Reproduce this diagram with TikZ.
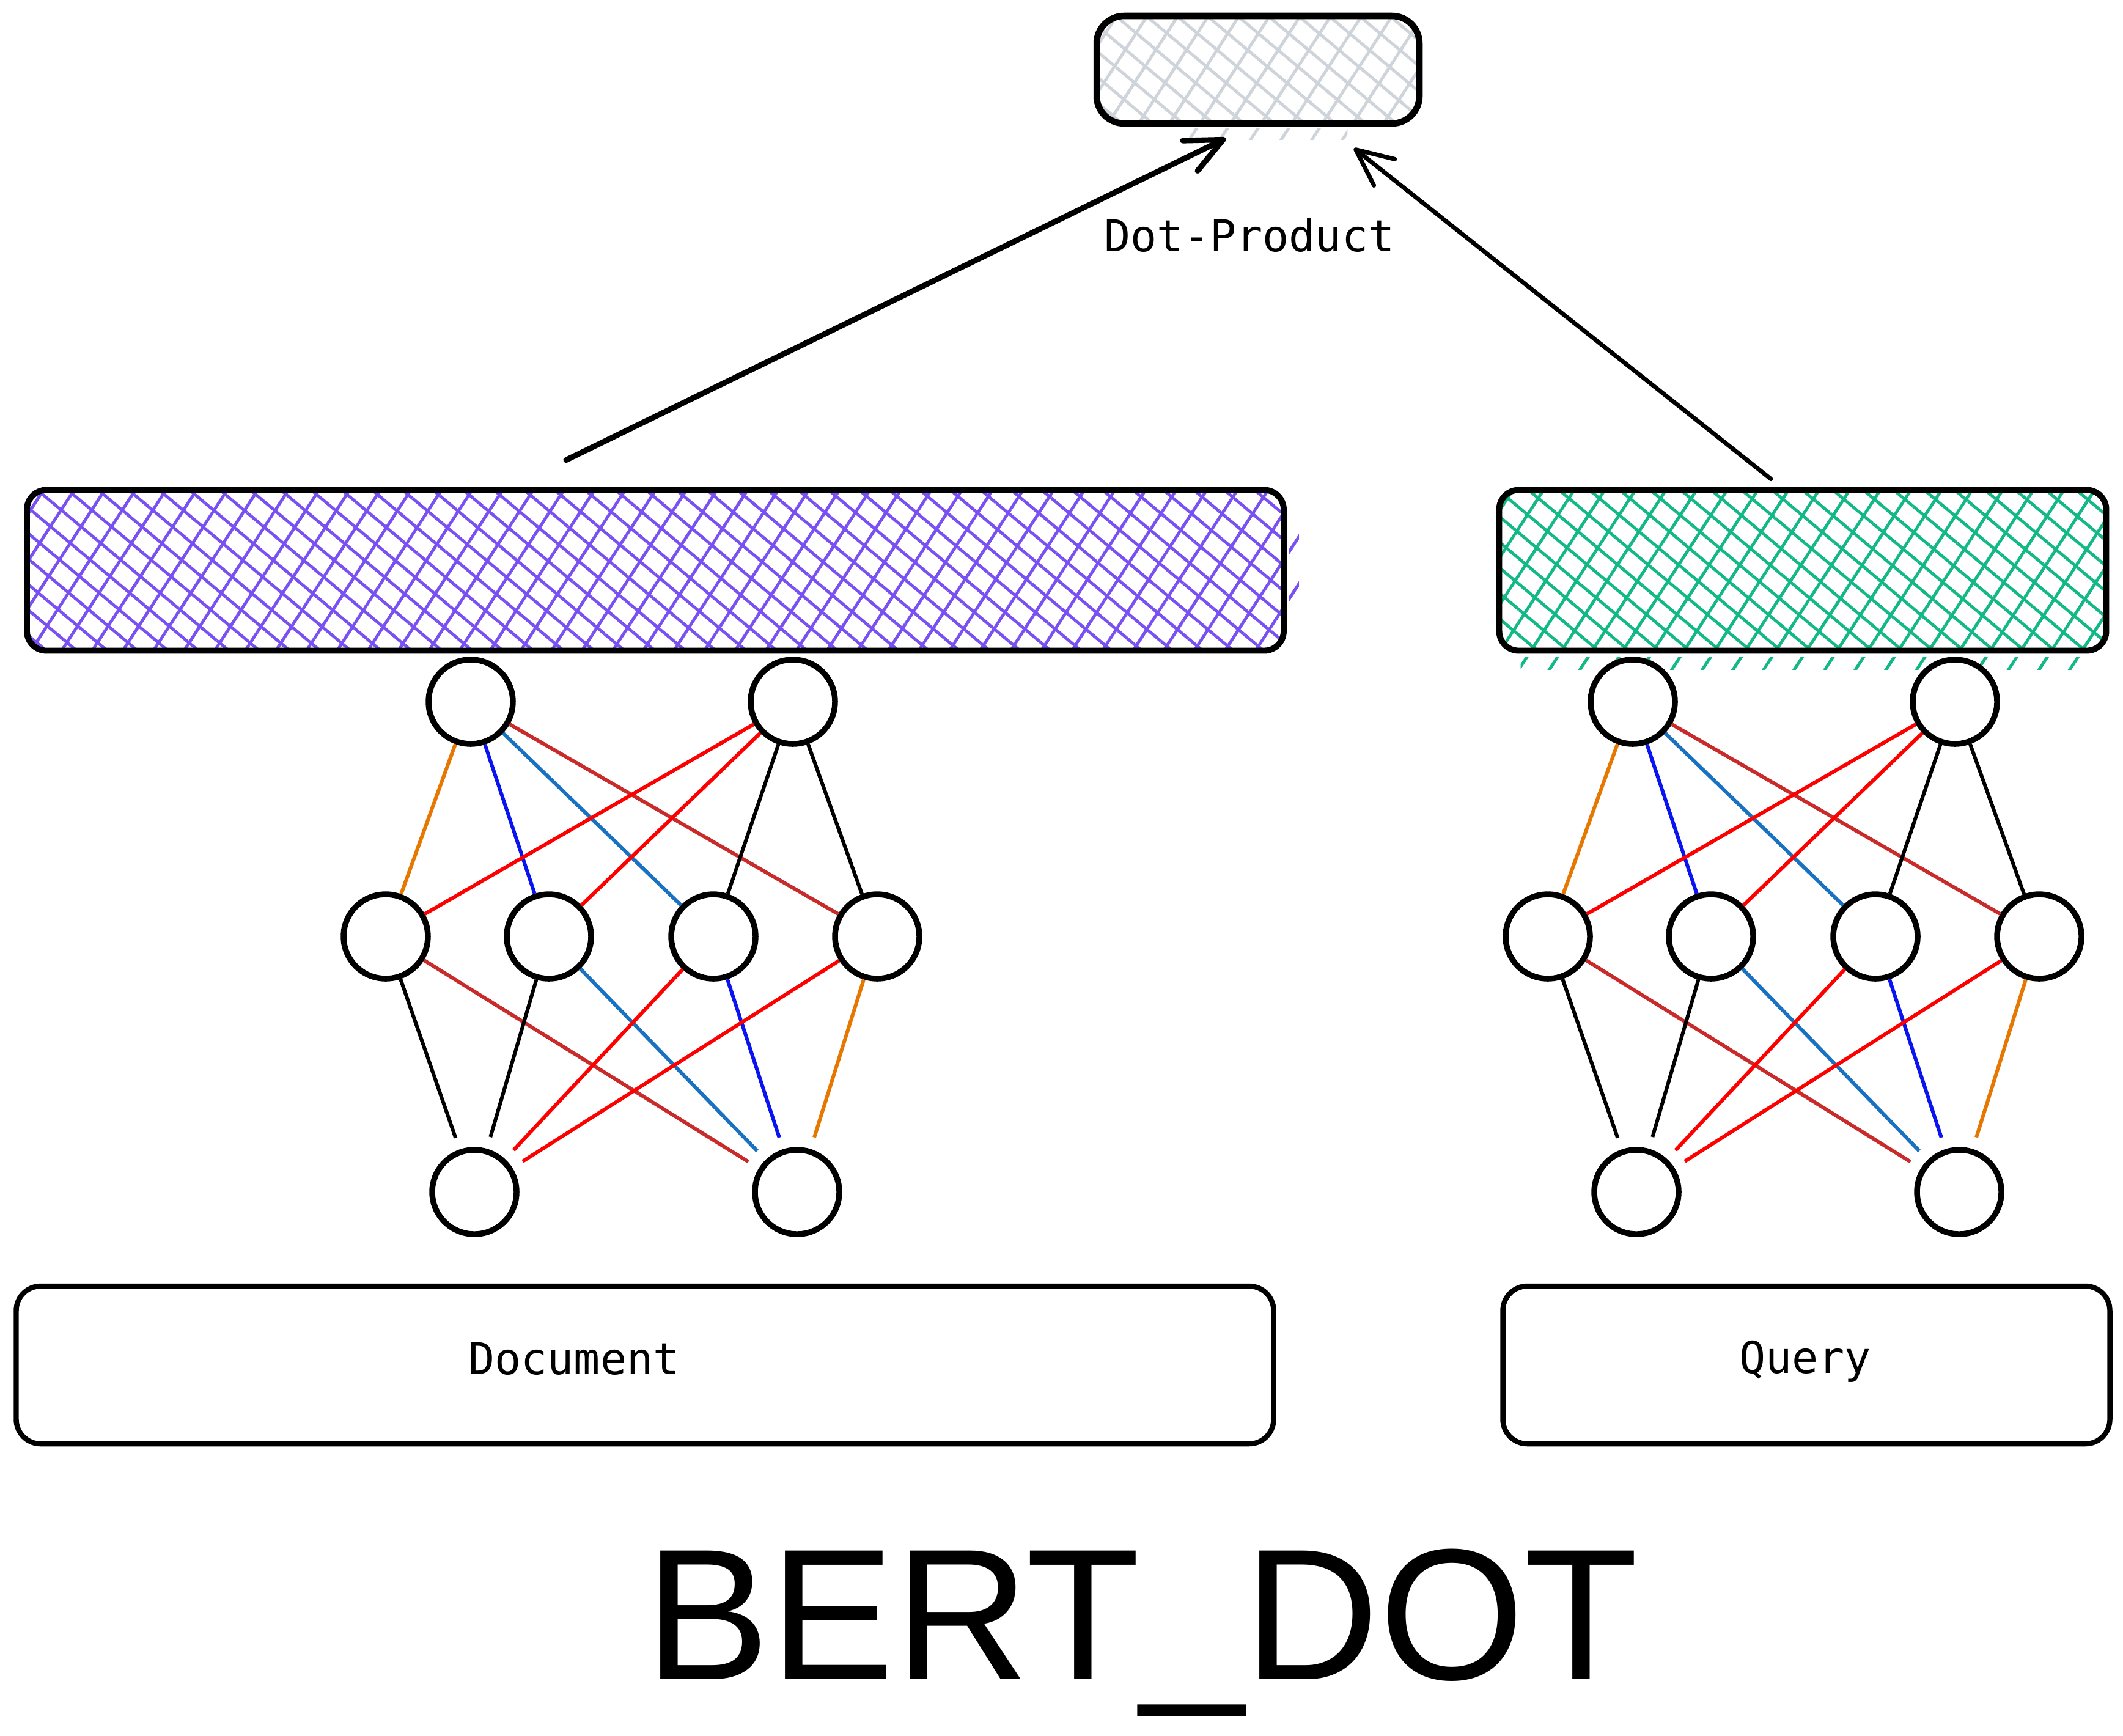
\documentclass[tikz,border=0pt]{standalone}
\usepackage{fontspec}
\setmonofont{DejaVu Sans Mono}
\setsansfont{Liberation Sans}
\usetikzlibrary{arrows.meta,patterns.meta}

\definecolor{hatchpurple}{HTML}{7950F2}
\definecolor{hatchgreen}{HTML}{12B886}
\definecolor{hatchgrey}{HTML}{CED4DA}
\definecolor{edgeorange}{HTML}{E67700}
\definecolor{edgeblue}{HTML}{0A14F0}
\definecolor{edgesteel}{HTML}{1971C2}
\definecolor{edgedarkred}{HTML}{C92A2A}
\definecolor{edgered}{HTML}{FF0000}

\begin{document}
\begin{tikzpicture}[
  neuron/.style={circle, draw=black, line width=2.7pt, fill=white, minimum size=1.38cm, inner sep=0pt},
  vecbox/.style={draw=black, line width=2.8pt, rounded corners=0.32cm, inner sep=0pt, minimum height=2.63cm},
  inbox/.style={draw=black, line width=2.4pt, rounded corners=0.4cm, inner sep=0pt, minimum height=2.58cm},
  hatched/.style={pattern={Lines[angle=57,distance=0.42cm,line width=1.4pt]}, pattern color=#1,
                  preaction={pattern={Lines[angle=-40,distance=0.32cm,line width=1.4pt]}, pattern color=#1}},
  spill/.style={pattern={Lines[angle=57,distance=0.42cm,line width=1.4pt]}, pattern color=#1},
  edge/.style={line width=1.7pt},
  arrow/.style={line cap=round, -{Straight Barb[length=0.6cm,width=0.55cm,round]}},
  mono/.style={font=\ttfamily\fontsize{20.4}{24}\selectfont},
]

\fill[white] (0,0) rectangle (34.73,-28.39); % page
\useasboundingbox (0,0) rectangle (34.73,-28.39);

% score box
\node [vecbox, line width=3pt, rounded corners=0.45cm, minimum width=5.28cm, minimum height=1.76cm,
       hatched=hatchgrey] (score) at (20.58,-1.14) {};
\path [spill=hatchgrey] ([xshift=1.2cm,yshift=-0.06cm]score.south west) rectangle ([xshift=-1.2cm,yshift=-0.24cm]score.south east);
\node [mono] (dotlabel) at (20.44,-3.85) {Dot-Product};

% encoder outputs
\node [vecbox, minimum width=20.56cm, hatched=hatchpurple] (docvec) at (10.72,-9.33) {};
\path [spill=hatchpurple] ([xshift=0.04cm,yshift=-0.5cm]docvec.north east) rectangle ([xshift=0.2cm,yshift=0.55cm]docvec.south east);
\node [vecbox, minimum width=9.93cm, hatched=hatchgreen] (qvec) at (29.49,-9.33) {};
\path [spill=hatchgreen] ([xshift=0.4cm,yshift=-0.06cm]qvec.south west) rectangle ([xshift=-0.4cm,yshift=-0.26cm]qvec.south east);

% inputs
\node [inbox, minimum width=20.57cm] (docin) at (10.55,-22.33) {};
\node [inbox, minimum width=9.93cm] (qin) at (29.55,-22.33) {};
\node [mono, anchor=base] (doctext) at (9.39,-22.48) {Document};
\node [mono, anchor=base] (qtext) at (29.53,-22.46) {Query};

% two small networks
\foreach \net/\dx in {d/0, q/19.01}{
  \foreach \i/\x in {1/7.70, 2/12.97}
    \node [neuron] (\net-t\i) at (\x+\dx,-11.48) {};
  \foreach \i/\x in {1/6.31, 2/8.98, 3/11.67, 4/14.35}
    \node [neuron] (\net-m\i) at (\x+\dx,-15.32) {};
  \foreach \i/\x in {1/7.76, 2/13.04}
    \node [neuron] (\net-b\i) at (\x+\dx,-19.50) {};
  \foreach \a/\b/\c in {t1/m1/edgeorange, t1/m2/edgeblue, t1/m3/edgesteel, t1/m4/edgedarkred,
                        t2/m1/edgered, t2/m2/edgered, t2/m3/black, t2/m4/black}
    \draw [edge, \c] (\net-\a) -- (\net-\b);
  \foreach \a/\b/\c in {m1/b1/black, m1/b2/edgedarkred, m2/b1/black, m2/b2/edgesteel,
                        m3/b1/edgered, m3/b2/edgeblue, m4/b1/edgered, m4/b2/edgeorange}
    \draw [edge, \c, shorten >=0.2cm] (\net-\a) -- (\net-\b);
}

% arrows to the score
\draw [arrow, line width=2.6pt] ([xshift=-1.46cm,yshift=0.44cm]docvec.north) -- ([xshift=-0.53cm,yshift=-0.22cm]score.south);
\draw [arrow, line width=2pt] ([xshift=-0.52cm,yshift=0.13cm]qvec.north) -- ([xshift=1.57cm,yshift=-0.38cm]score.south);

\node [anchor=base, font=\sffamily\fontsize{87}{90}\selectfont] (title) at (18.68,-27.47) {BERT\_DOT};

\end{tikzpicture}
\end{document}
